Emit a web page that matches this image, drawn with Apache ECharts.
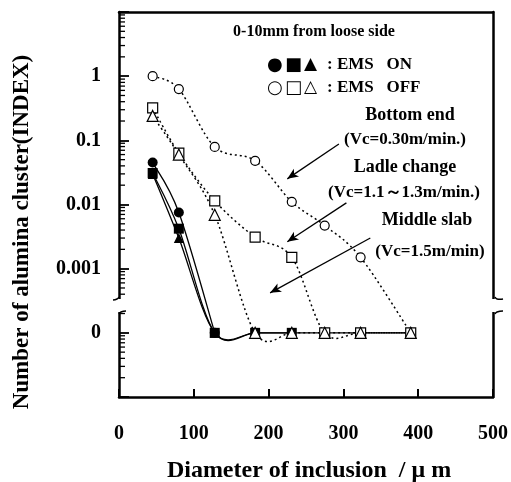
<!DOCTYPE html>
<html>
<head>
<meta charset="utf-8">
<script src="https://cdn.jsdelivr.net/npm/echarts@6/dist/echarts.min.js"></script>
<style>
  html, body { margin: 0; padding: 0; background: #fff; }
  #chart { width: 511px; height: 482px; }
</style>
</head>
<body>
<div id="chart"></div>
<script>
// diameter of inclusion (um)
var diameters = [45, 80, 128, 182, 231, 275, 323, 390];

// EMS OFF (open symbols)
var bottomEndOff = [1.0, 0.63, 0.079, 0.048, 0.011, 0.0047, 0.0015, 0];
var ladleChangeOff = [0.32, 0.063, 0.0114, 0.0031, 0.0015, 0, 0, 0];
var middleSlabOff = [0.24, 0.06, 0.0069, 0, 0, 0, 0, 0];

// EMS ON (filled symbols)
var bottomEndOn = [0.045, 0.0075, 0];
var ladleChangeOn = [0.031, 0.0042, 0, 0, 0];
var middleSlabOn = [0.03, 0.003, 0, 0, 0, 0, 0, 0];

// y ticks: the "0" row sits one decade below 0.001 on the broken log axis
var ZERO_LEVEL = 1e-4;
var yTickExp = [-4, -3, -2, -1, 0];
var yTickLabels = ['0', '0.001', '0.01', '0.1', '1'];
var xTicks = [0, 100, 200, 300, 400, 500];

// log minor ticks 2..9 in every decade of the axis
var yMinorTicks = [];
for (var k = -5; k <= 0; k++) {
    for (var m = 2; m <= 9; m++) {
        yMinorTicks.push(m * Math.pow(10, k));
    }
}

var SERIF = '"Liberation Serif", "Times New Roman", serif';
var SYM = '"DejaVu Sans", sans-serif';

function toPoints(ys) {
    return ys.map(function (v, i) {
        return [diameters[i], v === 0 ? ZERO_LEVEL : v];
    });
}

// catmull-rom spline through pixel points (like the original smoothed lines)
function splinePath(pts) {
    var d = 'M' + pts[0][0] + ' ' + pts[0][1];
    for (var i = 0; i < pts.length - 1; i++) {
        var p0 = pts[i - 1] || pts[i];
        var p1 = pts[i];
        var p2 = pts[i + 1];
        var p3 = pts[i + 2] || p2;
        var c1x = p1[0] + (p2[0] - p0[0]) / 6, c1y = p1[1] + (p2[1] - p0[1]) / 6;
        var c2x = p2[0] - (p3[0] - p1[0]) / 6, c2y = p2[1] - (p3[1] - p1[1]) / 6;
        d += ' C' + c1x + ' ' + c1y + ' ' + c2x + ' ' + c2y + ' ' + p2[0] + ' ' + p2[1];
    }
    return d;
}

function curve(ys, dash, width) {
    var data = toPoints(ys);
    return {
        type: 'custom',
        z: 2,
        silent: true,
        data: data,
        renderItem: function (params, api) {
            if (params.dataIndex !== 0) {
                return;
            }
            var px = data.map(function (p) { return api.coord(p); });
            return {
                type: 'path',
                shape: { pathData: splinePath(px) },
                style: { fill: null, stroke: '#000', lineWidth: width, lineDash: dash }
            };
        }
    };
}

function markers(ys, symbol, filled, size, z) {
    return {
        type: 'scatter',
        z: z,
        silent: true,
        symbol: symbol,
        symbolSize: size,
        data: toPoints(ys),
        itemStyle: filled
            ? { color: '#000', opacity: 1 }
            : { color: '#fff', borderColor: '#000', borderWidth: 1.2, opacity: 1 }
    };
}

// arrows from the annotations to the curves, in data coordinates
var arrows = [
    [[294, 0.0875], [225, 0.0251]],
    [[304, 0.0106], [225, 0.00263]],
    [[336, 0.0030], [202, 0.00042]]
];

var OFF_DASH = [2, 3];

// minor ticks drawn as thin bars sitting on the left axis
var minorTickSeries = {
    type: 'scatter',
    z: 8,
    silent: true,
    clip: false,
    symbol: 'rect',
    symbolSize: [6, 1.3],
    symbolOffset: [3, 0],
    itemStyle: { color: '#000', opacity: 1 },
    data: yMinorTicks.map(function (v) { return [0, v]; })
};

var series = [
    minorTickSeries,
    curve(bottomEndOn, null, 1.3),
    curve(ladleChangeOn, null, 1.3),
    curve(middleSlabOn, null, 1.3),
    curve(bottomEndOff, OFF_DASH, 1.5),
    curve(ladleChangeOff, OFF_DASH, 1.5),
    curve(middleSlabOff, OFF_DASH, 1.5),
    markers(bottomEndOn, 'circle', true, 10, 3),
    markers(ladleChangeOn, 'rect', true, 10, 3),
    markers(middleSlabOn, 'triangle', true, 10, 3),
    markers(bottomEndOff, 'circle', false, 9, 5),
    markers(ladleChangeOff, 'rect', false, 10, 5),
    markers(middleSlabOff, 'triangle', false, 11, 6)
];

series[10].markLine = {
    silent: true,
    symbol: ['none', 'arrow'],
    symbolSize: [7, 11],
    label: { show: false },
    lineStyle: { color: '#000', width: 1.3, type: 'solid' },
    data: arrows.map(function (a) {
        return [{ coord: a[0] }, { coord: a[1] }];
    })
};

function txt(x, y, text, size, align, font) {
    return {
        type: 'text',
        x: x,
        y: y,
        z: 50,
        style: {
            text: text,
            font: 'bold ' + size + 'px ' + (font || SERIF),
            fill: '#000',
            align: align || 'center',
            verticalAlign: 'middle'
        }
    };
}

function brk(points) {
    return {
        type: 'polyline',
        z: 101,
        shape: { points: points, smooth: 0.5 },
        style: { stroke: '#000', lineWidth: 1.5, fill: null }
    };
}

var graphic = [
    // axis break
    { type: 'rect', z: 100, shape: { x: 108, y: 299, width: 22, height: 13 }, style: { fill: '#fff' } },
    { type: 'rect', z: 100, shape: { x: 486, y: 299, width: 18, height: 13 }, style: { fill: '#fff' } },
    brk([[119, 297], [117, 299], [113, 300]]),
    brk([[119, 314], [121, 312], [126, 311]]),
    brk([[495, 297], [497, 299], [503, 299]]),
    brk([[495, 314], [497, 312], [503, 311]]),

    txt(314, 32, '0-10mm from loose side', 16),
    txt(267, 65, '●', 18, 'left', SYM),
    txt(285, 65, '■', 18, 'left', SYM),
    txt(304, 65, '▲', 17, 'left', SYM),
    txt(327, 65, ': EMS   ON', 17, 'left'),
    txt(267, 88, '○', 18, 'left', SYM),
    txt(285, 88, '□', 18, 'left', SYM),
    txt(304, 88, '△', 17, 'left', SYM),
    txt(327, 88, ': EMS   OFF', 17, 'left'),
    txt(410, 115, 'Bottom end', 18),
    txt(405, 140, '(Vc=0.30m/min.)', 17),
    txt(405, 167, 'Ladle change', 18),
    txt(404, 193, '(Vc=1.1～1.3m/min.)', 17),
    txt(427, 220, 'Middle slab', 18),
    txt(430, 252, '(Vc=1.5m/min)', 17),

    txt(309, 471, 'Diameter of inclusion  / μ m', 24),
    {
        type: 'text',
        x: 22,
        y: 232,
        rotation: Math.PI / 2,
        z: 50,
        style: {
            text: 'Number of alumina cluster(INDEX)',
            font: 'bold 23px ' + SERIF,
            fill: '#000',
            align: 'center',
            verticalAlign: 'middle'
        }
    }
];

var frameLine = { show: true, onZero: false, lineStyle: { color: '#000', width: 2.5 } };

var chart = echarts.init(document.getElementById('chart'));
chart.setOption({
    animation: false,
    backgroundColor: '#fff',
    grid: { left: 119, right: 16, top: 12, bottom: 85 },
    xAxis: [{
        type: 'value',
        min: xTicks[0],
        max: xTicks[xTicks.length - 1],
        interval: 100,
        splitLine: { show: false },
        axisLine: frameLine,
        axisTick: { show: true, inside: true, length: 8, lineStyle: { color: '#000', width: 2 } },
        axisLabel: {
            margin: 27, color: '#000', fontWeight: 'bold', fontSize: 20, fontFamily: SERIF
        }
    }, {
        type: 'value',
        position: 'top',
        min: 0, max: 1,
        splitLine: { show: false },
        axisLine: frameLine,
        axisTick: { show: false },
        axisLabel: { show: false }
    }],
    yAxis: [{
        type: 'log',
        logBase: 10,
        min: 1e-5,
        max: 10,
        interval: 1,
        splitLine: { show: false },
        axisLine: frameLine,
        axisTick: { show: true, inside: true, length: 10, lineStyle: { color: '#000', width: 1.8 } },
        axisLabel: {
            margin: 18, color: '#000', fontWeight: 'bold', fontSize: 20, fontFamily: SERIF,
            formatter: function (v) {
                var e = Math.round(Math.log10(v));
                var i = yTickExp.indexOf(e);
                return i < 0 ? '' : yTickLabels[i];
            }
        }
    }, {
        type: 'value',
        position: 'right',
        min: 0, max: 1,
        splitLine: { show: false },
        axisLine: frameLine,
        axisTick: { show: false },
        axisLabel: { show: false }
    }],
    graphic: graphic,
    series: series
});
</script>
</body>
</html>
